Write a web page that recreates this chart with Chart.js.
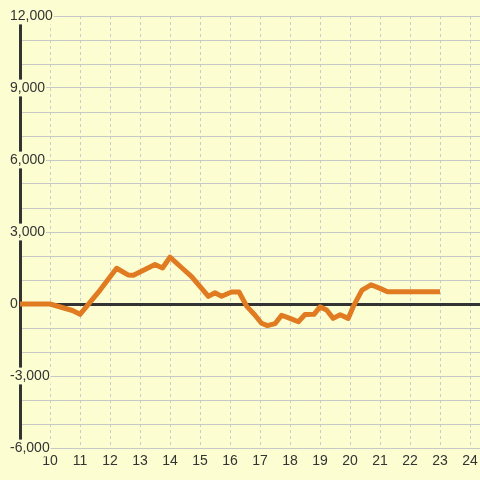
<!DOCTYPE html>
<html>
<head>
<meta charset="utf-8">
<script src="https://cdn.jsdelivr.net/npm/chart.js@4/dist/chart.umd.min.js"></script>
<style>
  html, body { margin: 0; padding: 0; background: #fdfdd2; }
  canvas { display: block; }
</style>
</head>
<body>
<canvas id="grafica" width="480" height="480"></canvas>
<script>
// hora del día (x) y valor (y)
const horas = [9, 10, 10.75, 11, 11.67, 12.22, 12.6, 12.78, 13.5, 13.75, 14.0, 14.4, 14.72,
  15.28, 15.5, 15.72, 16.05, 16.3, 16.56, 16.83, 17.05, 17.25, 17.5, 17.72, 18.0, 18.28,
  18.5, 18.8, 19.0, 19.22, 19.44, 19.67, 19.94, 20.11, 20.4, 20.7, 21.0, 21.25, 23.0];
const valores = [0, 0, -270, -430, 580, 1490, 1210, 1200, 1650, 1500, 1950, 1500, 1140,
  320, 470, 320, 500, 500, -100, -460, -800, -900, -820, -470, -600, -740,
  -440, -430, -120, -250, -600, -450, -600, -100, 580, 800, 650, 510, 510];

const xMin = 9, xMax = 24.333, xPaso = 1;
const yMin = -6000, yMax = 12000, yPaso = 1000, yEtiquetaPaso = 3000;

const fondo = '#fdfdd2';
const textoColor = '#333333';

Chart.defaults.font.family = 'Arial, "Liberation Sans", sans-serif';
Chart.defaults.font.size = 14;
Chart.defaults.color = textoColor;

new Chart(document.getElementById('grafica'), {
    type: 'line',
    data: {
        datasets: [{
            data: horas.map((x, i) => ({ x: x, y: valores[i] })),
            borderColor: '#e07b22',
            borderWidth: 5,
            borderJoinStyle: 'round',
            pointRadius: 0,
            fill: false,
            tension: 0
        }]
    },
    options: {
        responsive: false,
        animation: false,
        layout: { padding: { left: 6, top: 16, right: 0, bottom: 0 } },
        plugins: { legend: { display: false }, tooltip: { enabled: false } },
        scales: {
            x: {
                type: 'linear',
                min: xMin,
                max: xMax,
                afterFit: (s) => { s.height = 32; s.paddingLeft = 0; s.paddingRight = 0; },
                ticks: {
                    stepSize: xPaso,
                    includeBounds: false,
                    autoSkip: false,
                    maxRotation: 0,
                    padding: 5,
                    callback: (v) => v === xMin ? '' : v
                },
                grid: { color: '#cccccc', lineWidth: 1, drawTicks: false },
                border: { display: false, dash: [3, 3] }
            },
            y: {
                min: yMin,
                max: yMax,
                afterFit: (s) => { s.width = 14; s.paddingTop = 0; s.paddingBottom = 0; },
                ticks: {
                    stepSize: yPaso,
                    autoSkip: false,
                    mirror: true,
                    padding: -10,
                    crossAlign: 'near',
                    showLabelBackdrop: true,
                    backdropColor: fondo,
                    backdropPadding: { x: 1, y: 0 },
                    callback: (v) => v % yEtiquetaPaso === 0 ? v.toLocaleString('en-US') : ''
                },
                grid: {
                    color: (c) => c.tick && c.tick.value === 0 ? '#333333' : '#c8c8c8',
                    lineWidth: (c) => c.tick && c.tick.value === 0 ? 3 : 1,
                    drawTicks: false
                },
                border: { color: '#333333', width: 3 }
            }
        }
    }
});
</script>
</body>
</html>
